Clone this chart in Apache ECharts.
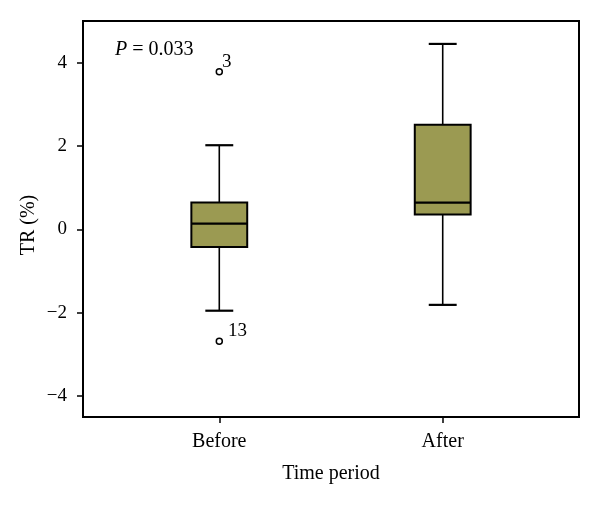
<!DOCTYPE html>
<html>
<head>
<meta charset="utf-8">
<script src="https://cdn.jsdelivr.net/npm/echarts@6/dist/echarts.min.js"></script>
<style>html,body{margin:0;padding:0;background:#fff;}#c{width:600px;height:506px;}</style>
</head>
<body>
<div id="c"></div>
<script>
// ---- data ----
const categories = ['Before', 'After'];
const whiskerLow  = [-1.95, -1.81];
const q1          = [-0.42, 0.36];
const median      = [0.14, 0.645];
const q3          = [0.645, 2.51];
const whiskerHigh = [2.02, 4.45];
const outlierGroup  = [1, 1];          // 1-based index into categories
const outlierValues = [3.78, -2.68];
const outlierLabels = ['3', '13'];
const yTicks = [-4, -2, 0, 2, 4];
const pValueText = '0.033';

// ---- chart ----
const FONT = 'Liberation Serif';
const BOX_WIDTH = 0.25;   // in x-axis units
const CAP_WIDTH = 0.125;

const boxData = categories.map((c, i) => [i + 1, whiskerLow[i], q1[i], median[i], q3[i], whiskerHigh[i]]);
const labelOffsets = [[-6, -10], [0, -10]];
const outlierData = outlierValues.map((v, i) => ({
  value: [outlierGroup[i], v],
  label: { show: true, formatter: outlierLabels[i], position: 'right', offset: labelOffsets[i],
           fontFamily: FONT, fontSize: 19, color: '#000' }
}));

function renderItem(params, api) {
  const x = api.value(0);
  const lo = api.coord([x, api.value(1)]);
  const b1 = api.coord([x, api.value(2)]);
  const md = api.coord([x, api.value(3)]);
  const b3 = api.coord([x, api.value(4)]);
  const hi = api.coord([x, api.value(5)]);
  const bw = api.size([BOX_WIDTH, 0])[0];
  const cw = api.size([CAP_WIDTH, 0])[0];
  const cx = b1[0];
  const thin = { stroke: '#000', lineWidth: 1.6 };
  const cap = { stroke: '#000', lineWidth: 2.2 };
  return {
    type: 'group',
    children: [
      { type: 'line', shape: { x1: cx, y1: hi[1], x2: cx, y2: b3[1] }, style: thin },
      { type: 'line', shape: { x1: cx, y1: b1[1], x2: cx, y2: lo[1] }, style: thin },
      { type: 'line', shape: { x1: cx - cw / 2, y1: hi[1], x2: cx + cw / 2, y2: hi[1] }, style: cap },
      { type: 'line', shape: { x1: cx - cw / 2, y1: lo[1], x2: cx + cw / 2, y2: lo[1] }, style: cap },
      { type: 'rect', shape: { x: cx - bw / 2, y: b3[1], width: bw, height: b1[1] - b3[1] },
        style: { fill: '#9b9a52', stroke: '#000', lineWidth: 2 } },
      { type: 'line', shape: { x1: cx - bw / 2, y1: md[1], x2: cx + bw / 2, y2: md[1] }, style: cap }
    ]
  };
}

const chart = echarts.init(document.getElementById('c'), null, { renderer: 'canvas' });
chart.setOption({
  animation: false,
  backgroundColor: '#fff',
  title: {
    text: '{i|P} = ' + pValueText,
    left: 110, top: 35,
    textStyle: {
      fontFamily: FONT, fontSize: 20, fontWeight: 'normal', color: '#000',
      rich: { i: { fontFamily: FONT, fontSize: 20, fontStyle: 'italic', color: '#000' } }
    }
  },
  grid: {
    left: 83, right: 21, top: 21, bottom: 89,
    show: true, borderColor: '#000', borderWidth: 2, backgroundColor: 'transparent'
  },
  xAxis: {
    type: 'value', min: 0.39, max: 2.61,
    name: 'Time period', nameLocation: 'middle', nameGap: 47, nameMoveOverlap: false,
    nameTextStyle: { fontFamily: FONT, fontSize: 20, color: '#000' },
    axisLine: { show: true, onZero: false, lineStyle: { color: '#000', width: 2 } },
    axisTick: { show: true, length: 6, customValues: [1, 2], lineStyle: { color: '#000', width: 1.5 } },
    axisLabel: {
      customValues: [1, 2], margin: 15,
      formatter: v => categories[Math.round(v) - 1] || '',
      fontFamily: FONT, fontSize: 20, color: '#000'
    },
    splitLine: { show: false }
  },
  yAxis: {
    type: 'value', min: -4.5, max: 5,
    name: 'TR (%)', nameLocation: 'middle', nameGap: 44, nameMoveOverlap: false,
    nameTextStyle: { fontFamily: FONT, fontSize: 20, color: '#000', padding: [0, 12, 0, 0] },
    axisLine: { show: true, onZero: false, lineStyle: { color: '#000', width: 2 } },
    axisTick: { show: true, length: 6, customValues: yTicks, lineStyle: { color: '#000', width: 1.5 } },
    axisLabel: {
      customValues: yTicks, margin: 16,
      formatter: v => (v < 0 ? '\u2212' + Math.abs(v) : String(v)),
      fontFamily: FONT, fontSize: 19, color: '#000'
    },
    splitLine: { show: false }
  },
  series: [
    {
      type: 'custom',
      renderItem: renderItem,
      encode: { x: 0, y: [1, 2, 3, 4, 5] },
      data: boxData,
      z: 2
    },
    {
      type: 'scatter',
      symbol: 'circle', symbolSize: 6,
      itemStyle: { color: '#fff', borderColor: '#000', borderWidth: 1.5, opacity: 1 },
      data: outlierData,
      z: 3
    }
  ]
});
</script>
</body>
</html>
